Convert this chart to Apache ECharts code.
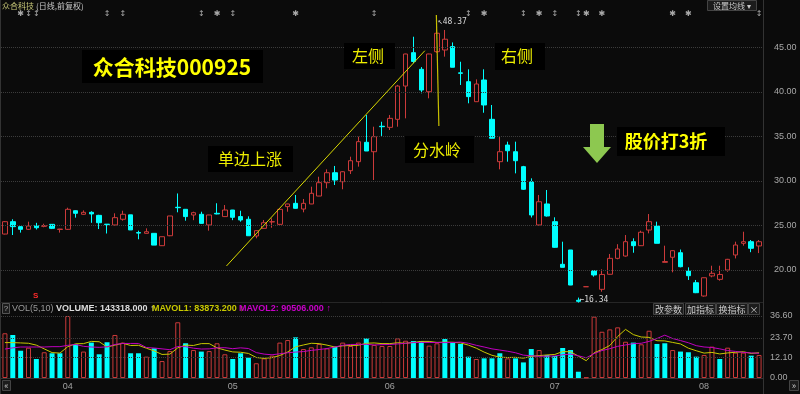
<!DOCTYPE html>
<html><head><meta charset="utf-8">
<script src="https://cdn.jsdelivr.net/npm/echarts@6/dist/echarts.min.js"></script>
<style>html,body{margin:0;padding:0;background:#0b0b0b;}#c{width:800px;height:394px;}</style>
</head><body><div id="c"></div>
<script>
// ---- data ----
const dates = [
'2015-03-20','2015-03-23','2015-03-24','2015-03-25','2015-03-26','2015-03-27','2015-03-30','2015-03-31',
'2015-04-01','2015-04-02','2015-04-03','2015-04-07','2015-04-08','2015-04-09','2015-04-10','2015-04-13','2015-04-14','2015-04-15','2015-04-16','2015-04-17','2015-04-20','2015-04-21','2015-04-22','2015-04-23','2015-04-24','2015-04-27','2015-04-28','2015-04-29','2015-04-30',
'2015-05-04','2015-05-05','2015-05-06','2015-05-07','2015-05-08','2015-05-11','2015-05-12','2015-05-13','2015-05-14','2015-05-15','2015-05-18','2015-05-19','2015-05-20','2015-05-21','2015-05-22','2015-05-25','2015-05-26','2015-05-27','2015-05-28','2015-05-29',
'2015-06-01','2015-06-02','2015-06-03','2015-06-04','2015-06-05','2015-06-08','2015-06-09','2015-06-10','2015-06-11','2015-06-12','2015-06-15','2015-06-16','2015-06-17','2015-06-18','2015-06-19','2015-06-23','2015-06-24','2015-06-25','2015-06-26','2015-06-29','2015-06-30',
'2015-07-01','2015-07-02','2015-07-03','2015-07-10','2015-07-13','2015-07-14','2015-07-15','2015-07-16','2015-07-17','2015-07-20','2015-07-21','2015-07-22','2015-07-23','2015-07-24','2015-07-27','2015-07-28','2015-07-29','2015-07-30','2015-07-31',
'2015-08-03','2015-08-04','2015-08-05','2015-08-06','2015-08-07','2015-08-10','2015-08-11','2015-08-12'];
const openP = [24.04,25.43,24.87,24.57,24.98,24.9,25.13,24.55,24.57,26.66,
26.26,26.48,26.14,25.15,25.06,25.7,26.2,24.2,24.12,24.12,
22.73,23.85,27.05,26.82,26.18,26.26,25.06,26.37,26.0,26.74,
26.0,25.7,23.82,24.68,25.4,25.13,27.12,27.49,26.85,27.42,
28.31,29.81,30.93,29.92,31.16,32.17,34.35,33.29,36.15,36.03,
36.93,40.67,44.42,42.55,40.03,44.53,44.72,45.1,42.15,41.16,
38.91,41.35,36.93,32.17,34.04,33.29,31.61,29.92,25.06,27.42,
25.43,20.64,22.25,16.6,18.12,19.92,17.83,19.52,21.31,21.57,
23.18,22.73,24.49,24.94,20.86,21.43,21.94,19.89,18.57,17.08,
19.33,18.95,20.0,21.69,23.0,23.18,22.7];
const closeP = [25.43,24.87,24.57,24.94,24.75,25.0,24.68,24.6,26.82,26.37,
26.48,26.3,25.31,25.1,25.88,26.26,24.5,24.15,24.3,22.8,
23.74,26.07,27.0,26.0,26.44,25.24,26.18,26.3,26.74,25.92,
25.62,23.85,24.42,25.31,25.43,26.82,27.42,26.93,27.49,28.62,
29.81,30.93,30.11,31.04,32.28,34.42,33.37,34.98,36.1,37.04,
40.67,44.27,43.43,40.22,44.27,46.6,45.93,42.78,42.1,39.48,
40.9,38.54,34.8,33.29,33.4,32.28,29.07,26.18,27.67,26.07,
22.55,20.3,18.31,16.48,18.12,19.44,19.5,21.31,22.36,23.18,
22.73,24.24,25.43,23.0,20.95,22.17,20.37,19.36,17.45,19.13,
19.63,19.5,21.2,22.81,23.18,22.44,23.18];
const lowP = [24.0,23.93,24.2,24.5,24.55,24.8,24.6,24.2,24.5,25.88,
26.2,25.3,24.6,24.1,25.0,25.54,24.5,23.45,24.1,22.8,
22.7,23.8,26.48,25.54,25.6,25.2,24.42,26.25,25.95,25.6,
25.43,23.85,23.56,24.65,24.75,25.1,26.55,26.9,26.48,27.4,
28.3,29.18,29.55,29.07,30.79,31.61,33.37,30.11,35.06,35.73,
36.1,37.04,43.23,39.85,39.29,44.4,43.97,42.78,40.79,38.73,
38.9,37.67,34.8,31.31,32.17,30.86,29.0,25.9,25.0,26.0,
22.5,20.3,18.3,16.34,18.12,19.25,17.56,19.5,21.2,21.5,
21.94,22.7,24.12,23.0,20.86,19.74,20.3,18.88,17.4,17.0,
19.18,18.8,19.8,21.3,22.73,22.0,21.9];
const highP = [25.5,25.7,24.9,25.43,25.3,25.2,25.15,24.62,27.0,26.7,
26.7,26.6,26.2,25.15,26.37,26.66,26.2,24.42,24.68,24.12,
23.74,26.07,28.6,26.85,26.55,26.55,26.2,27.5,27.3,26.75,
26.66,26.03,24.45,25.62,25.8,26.85,27.45,28.43,27.98,29.36,
30.48,31.31,31.69,31.1,32.73,34.98,37.42,36.1,36.66,37.42,
40.8,44.3,46.21,42.8,44.3,48.37,46.97,45.57,43.4,42.55,
41.42,42.55,38.54,34.98,34.42,34.42,31.7,30.3,28.43,28.99,
25.92,23.18,22.25,16.9,18.12,19.94,20.08,21.8,22.9,23.93,
23.56,24.42,26.29,25.43,22.73,22.2,22.3,20.3,18.88,19.15,
20.48,20.48,21.25,23.18,24.3,23.37,23.37];
const volume = [26.4,25.4,16.1,17.9,11.2,15.2,14.6,14.6,36.6,19.9,
15.6,20.9,14.0,21.1,25.4,20.9,14.6,14.6,12.6,17.5,
10.0,15.9,32.9,20.5,16.5,15.6,15.9,20.5,14.0,11.2,
14.6,12.0,8.7,11.6,13.2,20.9,22.4,24.0,17.1,18.1,
20.1,17.5,18.5,20.9,18.9,20.9,23.4,19.5,18.9,18.9,
23.4,22.0,21.8,21.8,19.1,20.5,23.0,20.9,20.1,12.6,
11.2,11.6,11.6,14.6,11.6,11.6,9.2,17.1,16.5,13.6,
13.0,17.7,16.5,3.7,0.3,36.2,27.3,28.7,29.9,21.4,
20.9,19.9,27.9,20.1,20.5,16.5,15.6,15.2,12.6,13.6,
18.5,11.2,17.9,15.0,15.0,13.2,13.6];
const mavol1 = [20.9,20.9,20.7,20.5,19.4,17.2,15.0,14.7,18.5,20.2,
20.3,21.6,21.4,18.3,19.4,20.5,19.2,19.3,17.6,16.0,
13.9,14.1,17.8,19.4,19.2,20.3,20.3,17.8,16.5,15.4,
15.2,14.5,12.1,11.6,12.0,13.3,15.4,18.4,19.5,20.5,
20.3,19.4,18.3,19.0,19.2,19.3,20.5,20.7,20.3,20.3,
20.8,20.5,21.0,21.6,21.6,21.0,21.2,21.1,20.7,19.4,
17.6,15.3,13.4,12.3,12.1,12.2,11.7,12.8,13.2,13.6,
13.9,15.6,15.5,12.9,10.2,14.9,16.8,19.2,24.5,28.7,
25.6,24.2,24.0,22.0,21.9,21.0,20.1,17.6,16.1,14.7,
15.1,14.2,14.8,15.2,15.5,14.5,14.9];
const mavol2 = [17.1,17.8,18.3,18.3,18.3,18.3,18.5,18.5,19.3,19.8,
18.7,18.3,18.1,18.4,19.8,20.4,20.4,20.4,18.0,17.7,
17.2,16.7,18.6,18.5,17.6,17.1,17.2,17.8,17.9,17.3,
17.8,17.4,15.0,14.1,13.7,14.3,14.9,15.3,15.6,16.3,
16.8,17.4,18.3,19.3,19.8,19.8,19.9,19.5,19.7,19.8,
20.1,20.5,20.9,21.0,21.0,20.9,20.9,21.0,21.2,20.5,
19.3,18.3,17.2,16.5,15.8,14.9,13.5,13.1,12.8,12.9,
13.0,13.7,14.1,13.1,11.9,14.4,16.2,17.3,18.7,19.5,
20.3,20.5,21.6,23.3,25.3,23.3,22.1,20.8,19.1,18.3,
18.0,17.2,16.2,15.7,15.1,14.8,14.6];
const priceTicks = [20, 25, 30, 35, 40, 45];
const volTicks = [0, 12.10, 23.70, 36.60];
const eventIdx  = [2,3,4,13,15,25,27,29,37,47,59,61,66,68,70,73,74,76,85,87,96];
const eventType = ['s','a','a','a','a','a','s','a','s','a','a','s','a','s','a','a','s','s','s','s','a'];
const trendLine = [[28.2, 20.45], [53.45, 44.64]];
const ridgeLine = [[54.92, 48.65], [55.24, 36.18]];

// ---- chart ----
const RED = '#cc3a3a', CYAN = '#00ffff', BG = '#0b0b0b';
const CJK = '"Noto Sans CJK SC", sans-serif';
const ohlc = dates.map((d, i) => [openP[i], closeP[i], lowP[i], highP[i]]);
const volData = volume.map((v, i) => {
  const up = i === 0 ? closeP[i] >= openP[i] : closeP[i] >= closeP[i - 1];
  return { value: v, itemStyle: up ? { color: BG, borderColor: RED, borderWidth: 1 } : { color: CYAN, borderWidth: 0 } };
});
let hiIdx = 0, loIdx = 0;
highP.forEach((h, i) => { if (h > highP[hiIdx]) hiIdx = i; });
lowP.forEach((l, i) => { if (l < lowP[loIdx]) loIdx = i; });

const G = { left: 1, right: 37 };
const chart = echarts.init(document.getElementById('c'), null, { renderer: 'canvas' });

function box(x, y, w, h, cx, cy, text, size, bold, color) {
  return [
    { type: 'rect', shape: { x: x, y: y, width: w, height: h }, style: { fill: '#000' }, z: 50 },
    { type: 'text', x: cx, y: cy, z: 51, style: { text: text, fill: color, align: 'center', verticalAlign: 'middle',
      font: (bold ? 'bold ' : '') + size + 'px ' + CJK } }
  ];
}
function btn(x, y, w, h, text, size) {
  return [
    { type: 'rect', shape: { x: x, y: y, width: w, height: h }, style: { fill: '#1c1c1c', stroke: '#444', lineWidth: 1 }, z: 50 },
    { type: 'text', x: x + w / 2, y: y + h / 2 + 0.5, z: 51, style: { text: text, fill: '#c8c8c8', align: 'center', verticalAlign: 'middle', font: size + 'px ' + CJK } }
  ];
}
function txt(x, y, text, color, font) {
  return { type: 'text', x: x, y: y, z: 51, style: { text: text, fill: color, verticalAlign: 'middle', font: font } };
}

const graphics = [].concat(
  [{ type: 'line', shape: { x1: 763.5, y1: 0, x2: 763.5, y2: 394 }, style: { stroke: '#333', lineWidth: 1 }, z: 1 },
   { type: 'line', shape: { x1: 0.5, y1: 0, x2: 0.5, y2: 394 }, style: { stroke: '#333', lineWidth: 1 }, z: 1 },
   { type: 'line', shape: { x1: 0, y1: 302.5, x2: 763, y2: 302.5 }, style: { stroke: '#262626', lineWidth: 1 }, z: 1 },
   txt(2, 6, '众合科技', '#c8c878', '8px ' + CJK),
   txt(36, 6, '(日线,前复权)', '#c8c8c8', '8px ' + CJK)],
  btn(707.5, 0.5, 49, 10, '设置均线 ▾', 8),
  box(82, 50, 181, 33, 172, 67, '众合科技000925', 21, true, '#ffff00'),
  box(344, 43, 51, 26, 368, 56, '左侧', 16, false, '#eeee00'),
  box(495, 43, 50, 27, 517, 56, '右侧', 16, false, '#eeee00'),
  box(208, 146, 85, 26, 250, 159, '单边上涨', 16, false, '#eeee00'),
  box(405, 136, 69, 27, 437, 150, '分水岭', 16, false, '#eeee00'),
  box(617, 127, 108, 29, 666, 141, '股价打3折', 18, true, '#ffff00'),
  [{ type: 'polygon', z: 52, shape: { points: [[590, 124], [604, 124], [604, 147], [611, 147], [597, 163], [583, 147], [590, 147]] }, style: { fill: '#8dc850' } },
   txt(33, 296, 'S', '#ff2a2a', 'bold 8px "Liberation Sans", sans-serif'),
   { type: 'rect', shape: { x: 2.5, y: 303.5, width: 7, height: 10 }, style: { fill: '#1c1c1c', stroke: '#555' }, z: 50 },
   { type: 'text', x: 6, y: 309, z: 51, style: { text: '?', fill: '#aaa', align: 'center', verticalAlign: 'middle', font: '8px "Liberation Sans", sans-serif' } },
   txt(12, 309, 'VOL(5,10)', '#9a9a9a', '9px "Liberation Sans", sans-serif'),
   txt(56, 309, 'VOLUME: 143318.000 ↑', '#dcdcdc', 'bold 9px "Liberation Sans", sans-serif'),
   txt(152, 309, 'MAVOL1: 83873.200 ↑', '#c8c800', 'bold 9px "Liberation Sans", sans-serif'),
   txt(239, 309, 'MAVOL2: 90506.000 ↑', '#c800c8', 'bold 9px "Liberation Sans", sans-serif')],
  btn(653.5, 303.5, 30, 11, '改参数', 9),
  btn(685.5, 303.5, 30, 11, '加指标', 9),
  btn(716.5, 303.5, 31, 11, '换指标', 9),
  btn(748.5, 303.5, 11, 11, '×', 9),
  btn(2.5, 380.5, 8, 10, '«', 9),
  btn(789.5, 380.5, 9, 10, '»', 9)
);

const option = {
  animation: false,
  backgroundColor: BG,
  textStyle: { fontFamily: '"Liberation Sans", ' + CJK },
  grid: [
    { left: G.left, right: G.right, top: 3, height: 311.5 },
    { left: G.left, right: G.right, top: 316, height: 62 },
    { left: G.left, right: G.right, top: 9, height: 10 }
  ],
  xAxis: [
    { type: 'category', gridIndex: 0, data: dates, show: false, boundaryGap: true },
    { type: 'category', gridIndex: 1, data: dates, boundaryGap: true,
      axisLine: { show: true, lineStyle: { color: '#333' } }, axisTick: { show: false },
      axisLabel: { color: '#a0a0a0', fontSize: 9, margin: 4,
        interval: (i, v) => i > 0 && v.slice(5, 7) !== dates[i - 1].slice(5, 7),
        formatter: v => v.slice(5, 7) } },
    { type: 'category', gridIndex: 2, data: dates, show: false, boundaryGap: true },
    { type: 'value', gridIndex: 0, min: -0.5, max: dates.length - 0.5, show: false, position: 'top' }
  ],
  yAxis: [
    { type: 'value', gridIndex: 0, position: 'right', min: 15, max: 50, interval: 5, scale: true,
      axisLine: { show: false }, axisTick: { show: false }, splitLine: { show: false },
      axisLabel: { color: '#a8a8a8', fontSize: 9, margin: 11, showMinLabel: false, showMaxLabel: false,
        formatter: v => v.toFixed(2) } },
    { type: 'value', gridIndex: 1, position: 'right', min: 0, max: 36.6,
      axisLine: { show: false }, axisTick: { show: false }, splitLine: { show: false },
      axisLabel: { color: '#a8a8a8', fontSize: 9, margin: 7, customValues: volTicks, formatter: v => v.toFixed(2) } },
    { type: 'value', gridIndex: 2, min: -1, max: 1, show: false }
  ],
  series: [
    { type: 'candlestick', xAxisIndex: 0, yAxisIndex: 0, data: ohlc, barWidth: 5,
      itemStyle: { color: BG, color0: CYAN, borderColor: RED, borderColor0: CYAN, borderWidth: 1 },
      markLine: { silent: true, symbol: 'none', label: { show: false }, animation: false,
        lineStyle: { type: 'dotted', color: '#3c3c3c', width: 1 },
        data: priceTicks.map(v => ({ yAxis: v })) },
      markPoint: { symbol: 'circle', symbolSize: 0, silent: true,
        data: [
          { coord: [hiIdx, highP[hiIdx]], label: { show: true, position: 'right', distance: 1, offset: [0, 4],
            formatter: '↖' + highP[hiIdx].toFixed(2), color: '#d8d8d8', fontSize: 8, fontFamily: '"DejaVu Sans Mono", monospace' } },
          { coord: [loIdx, lowP[loIdx]], label: { show: true, position: 'right', distance: 1, offset: [0, -3],
            formatter: '←' + lowP[loIdx].toFixed(2), color: '#d8d8d8', fontSize: 8, fontFamily: '"DejaVu Sans Mono", monospace' } }
        ] } },
    { type: 'line', xAxisIndex: 3, yAxisIndex: 0, data: trendLine, symbol: 'none', z: 5,
      lineStyle: { color: '#dada00', width: 1 } },
    { type: 'line', xAxisIndex: 3, yAxisIndex: 0, data: ridgeLine, symbol: 'none', z: 5,
      lineStyle: { color: '#c8c000', width: 1.2 } },
    { type: 'bar', xAxisIndex: 1, yAxisIndex: 1, data: volData, barWidth: 5,
      markLine: { silent: true, symbol: 'none', label: { show: false }, animation: false,
        lineStyle: { type: 'dotted', color: '#3c3c3c', width: 1 },
        data: volTicks.filter(v => v > 0).map(v => ({ yAxis: v })) } },
    { type: 'line', xAxisIndex: 1, yAxisIndex: 1, data: mavol1, symbol: 'none', z: 4,
      lineStyle: { color: '#c8c800', width: 1 } },
    { type: 'line', xAxisIndex: 1, yAxisIndex: 1, data: mavol2, symbol: 'none', z: 4,
      lineStyle: { color: '#c000c0', width: 1 } },
    { type: 'scatter', xAxisIndex: 2, yAxisIndex: 2, symbolSize: 0, silent: true,
      data: eventIdx.map((k, j) => ({ value: [k, 0], label: { formatter: eventType[j] === 's' ? '✱' : '↕' } })),
      label: { show: true, position: 'inside', color: '#d0d0d0', fontSize: 8, fontFamily: '"DejaVu Sans", sans-serif' } }
  ],
  graphic: { elements: graphics }
};
chart.setOption(option);
</script>
</body></html>
